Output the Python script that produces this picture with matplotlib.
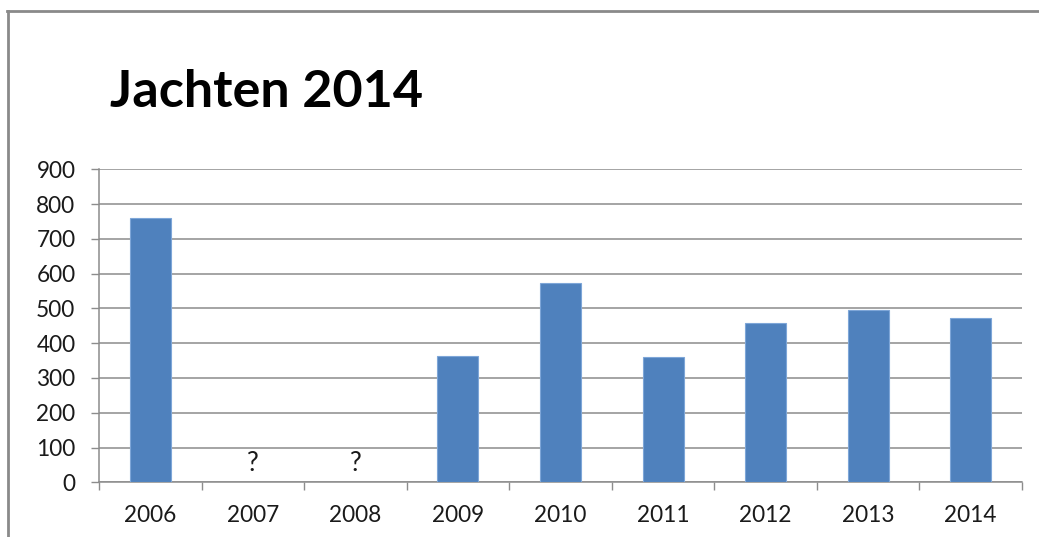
import matplotlib
matplotlib.use("Agg")
import matplotlib.pyplot as plt
import numpy as np
from matplotlib.lines import Line2D

plt.rcParams['font.family'] = ['Lato', 'DejaVu Sans']

years = ['2006', '2007', '2008', '2009', '2010', '2011', '2012', '2013', '2014']
counts = [761, np.nan, np.nan, 362, 574, 359, 458, 495, 472]
unknown_label = '?'

bar_color = '#4f81bd'
grid_color = '#8c8c8c'
text_color = '#1a1a1a'

fig = plt.figure(figsize=(10.39, 5.37), dpi=100)
ax = fig.add_axes([0.0953, 0.1019, 0.8883, 0.5828])

x = np.arange(len(years))
ax.bar(x, counts, width=0.4, color=bar_color, edgecolor='#7ea6d8', linewidth=0.8, zorder=3)

for xi, v in zip(x, counts):
    if np.isnan(v):
        ax.text(xi, 55, unknown_label, ha='center', va='center', fontsize=19, color=text_color)

ax.set_xlim(-0.5, len(years) - 0.5)
ax.set_ylim(0, 900)
ax.set_yticks(range(0, 901, 100))
ax.yaxis.grid(True, color=grid_color, linewidth=1.1, zorder=0)
ax.set_axisbelow(True)

# tick marks between categories, labels centred under the bars
ax.set_xticks(np.arange(-0.5, len(years), 1.0))
ax.set_xticklabels([])
ax.set_xticks(x, minor=True)
ax.set_xticklabels(years, minor=True)
ax.tick_params(axis='x', which='major', length=6, width=1, color=grid_color, direction='out')
ax.tick_params(axis='x', which='minor', length=0, pad=16, labelsize=16.3, labelcolor=text_color)
ax.tick_params(axis='y', length=6, width=1, color=grid_color, pad=11, labelsize=16.3, labelcolor=text_color)

for s in ['top', 'right']:
    ax.spines[s].set_visible(False)
for s in ['left', 'bottom']:
    ax.spines[s].set_color(grid_color)
    ax.spines[s].set_linewidth(1.1)

fig.text(110 / 1039, 1 - 107 / 537, 'Jachten 2014', fontsize=37.5, fontweight='bold',
         ha='left', va='baseline', color='black')

# outer frame of the chart area
frame_kw = dict(color='#8a8a8a', linewidth=2, transform=fig.transFigure)
fig.add_artist(Line2D([7.5 / 1039, 7.5 / 1039], [0, 1 - 10.5 / 537], **frame_kw))
fig.add_artist(Line2D([6.5 / 1039, 1], [1 - 10.5 / 537, 1 - 10.5 / 537], **frame_kw))

fig.savefig('out.png', dpi=100, facecolor='white')
